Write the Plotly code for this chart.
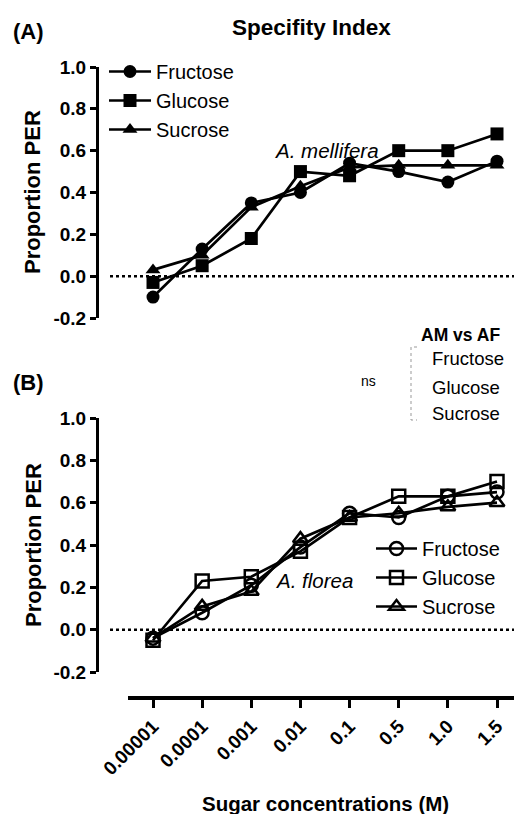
import plotly.graph_objects as go

W, H = 514, 814
FONT = "Liberation Sans, Arial, sans-serif"

# ---- data ----
concentrations = ["0.00001", "0.0001", "0.001", "0.01", "0.1", "0.5", "1.0", "1.5"]
series_names = ["Fructose", "Glucose", "Sucrose"]

am_fructose = [-0.10, 0.13, 0.35, 0.40, 0.54, 0.50, 0.45, 0.55]
am_glucose = [-0.03, 0.05, 0.18, 0.50, 0.48, 0.60, 0.60, 0.68]
am_sucrose = [0.03, 0.10, 0.33, 0.43, 0.52, 0.53, 0.53, 0.53]

af_fructose = [-0.04, 0.08, 0.21, 0.39, 0.55, 0.53, 0.63, 0.65]
af_glucose = [-0.05, 0.23, 0.25, 0.37, 0.53, 0.63, 0.63, 0.70]
af_sucrose = [-0.04, 0.11, 0.18, 0.43, 0.53, 0.55, 0.58, 0.60]

y_tick_vals = [-0.2, 0.0, 0.2, 0.4, 0.6, 0.8, 1.0]
y_tick_text = ["-0.2", "0.0", "0.2", "0.4", "0.6", "0.8", "1.0"]

filled_symbols = ["circle", "square", "triangle-up"]
open_symbols = ["circle-open", "square-open", "triangle-up-open"]


def px(x):
    return x / W


def py(y):
    return 1 - y / H


fig = go.Figure()

for i, (name, vals) in enumerate(zip(series_names, [am_fructose, am_glucose, am_sucrose])):
    fig.add_trace(go.Scatter(
        x=concentrations, y=vals, name=name, mode="lines+markers",
        xaxis="x", yaxis="y", legend="legend", legendgroup="a",
        line=dict(color="black", width=2.7),
        marker=dict(symbol=filled_symbols[i], size=13, color="black"),
    ))

for i, (name, vals) in enumerate(zip(series_names, [af_fructose, af_glucose, af_sucrose])):
    fig.add_trace(go.Scatter(
        x=concentrations, y=vals, name=name, mode="lines+markers",
        xaxis="x", yaxis="y2", legend="legend2", legendgroup="b",
        line=dict(color="black", width=2.7),
        marker=dict(symbol=open_symbols[i], size=13, color="black",
                    line=dict(width=2.5, color="black")),
    ))

tickfont = dict(family=FONT, size=19, color="black", weight="bold")

yaxis_common = dict(
    range=[-0.2, 1.0], tickvals=y_tick_vals, ticktext=y_tick_text,
    showgrid=False, zeroline=False, showline=True, linecolor="black", linewidth=3,
    ticks="outside", ticklen=6, tickwidth=3, tickcolor="black",
    tickfont=tickfont, anchor="free", position=px(97), automargin=False,
)

fig.update_layout(
    template="none",
    width=W, height=H,
    margin=dict(l=0, r=0, t=0, b=0, pad=0, autoexpand=False),
    paper_bgcolor="white", plot_bgcolor="rgba(0,0,0,0)",
    font=dict(family=FONT, color="black"),
    xaxis=dict(
        type="category", categoryorder="array", categoryarray=concentrations,
        range=[-0.509, 7.346], domain=[px(128), 1],
        anchor="free", position=py(698), automargin=False,
        showgrid=False, zeroline=False, showline=True, linecolor="black", linewidth=3.5,
        ticks="outside", ticklen=8, tickwidth=3, tickcolor="black",
        tickangle=-45, tickfont=tickfont,
    ),
    yaxis=dict(domain=[py(318), py(67)], **yaxis_common),
    yaxis2=dict(domain=[py(672), py(418)], **yaxis_common),
    legend=dict(
        x=px(104), y=py(52), xanchor="left", yanchor="top",
        bgcolor="rgba(0,0,0,0)", font=dict(family=FONT, size=20, color="black"),
        tracegroupgap=0, itemwidth=42,
    ),
    legend2=dict(
        x=px(371), y=py(529), xanchor="left", yanchor="top",
        bgcolor="rgba(0,0,0,0)", font=dict(family=FONT, size=20, color="black"),
        tracegroupgap=0, itemwidth=41,
    ),
    showlegend=True,
)

# zero reference lines
for yref in ["y", "y2"]:
    fig.add_shape(type="line", xref="paper", yref=yref, x0=px(110), x1=1, y0=0, y1=0,
                  line=dict(color="black", width=2.5, dash="dot"))

# bracket near the comparison list
fig.add_shape(type="path", xref="paper", yref="paper",
              path=f"M {px(417)},{py(347)} L {px(411)},{py(347)} L {px(411)},{py(420)} L {px(417)},{py(420)}",
              line=dict(color="#999999", width=1, dash="dot"))


def ann(text, x, y, size, xanchor="center", bold=False, italic=False, angle=0):
    t = text
    if bold:
        t = "<b>" + t + "</b>"
    if italic:
        t = "<i>" + t + "</i>"
    fig.add_annotation(text=t, xref="paper", yref="paper", x=px(x), y=py(y),
                       xanchor=xanchor, yanchor="middle", showarrow=False,
                       textangle=angle, font=dict(family=FONT, size=size, color="black"))


ann("Specifity Index", 311, 27, 22.5, bold=True)
ann("(A)", 11, 32, 22, xanchor="left", bold=True)
ann("(B)", 11, 382, 22, xanchor="left", bold=True)
ann("Proportion PER", 33, 192, 22, bold=True, angle=-90)
ann("Proportion PER", 33, 545, 22, bold=True, angle=-90)
ann("A. mellifera", 272, 150, 20.5, xanchor="left", italic=True)
ann("A. florea", 273, 580, 20.5, xanchor="left", italic=True)
ann("Sugar concentrations (M)", 325, 803, 20.5, bold=True)
ann("ns", 368, 381, 14)
ann("AM vs AF", 419, 335, 17.5, xanchor="left", bold=True)
ann("Fructose", 430, 359, 18.5, xanchor="left")
ann("Glucose", 430, 387, 18.5, xanchor="left")
ann("Sucrose", 430, 413, 18.5, xanchor="left")

fig.write_html(
    "out.html",
    config={"displayModeBar": False},
    post_script="document.body.style.margin='0';document.body.style.overflow='hidden';",
)
